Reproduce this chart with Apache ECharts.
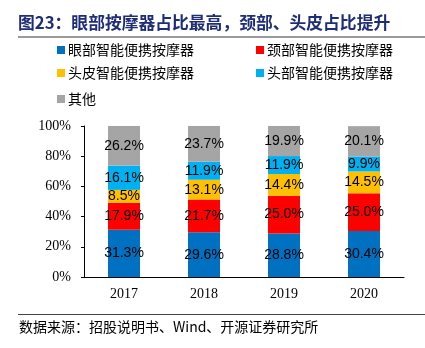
<!DOCTYPE html>
<html>
<head>
<meta charset="utf-8">
<script src="https://cdn.jsdelivr.net/npm/echarts@6/dist/echarts.min.js"></script>
<style>html,body{margin:0;padding:0;background:#fff;}#c{width:425px;height:348px;}</style>
</head>
<body>
<div id="c"></div>
<script>
const categories = ['2017', '2018', '2019', '2020'];
const seriesNames = ['眼部智能便携按摩器', '颈部智能便携按摩器', '头皮智能便携按摩器', '头部智能便携按摩器', '其他'];
const eyeValues = [31.3, 29.6, 28.8, 30.4];
const neckValues = [17.9, 21.7, 25.0, 25.0];
const scalpValues = [8.5, 13.1, 14.4, 14.5];
const headValues = [16.1, 11.9, 11.9, 9.9];
const otherValues = [26.2, 23.7, 19.9, 20.1];
const yTicks = [0, 20, 40, 60, 80, 100];
const titleText = '图23：眼部按摩器占比最高，颈部、头皮占比提升';
const sourceText = '数据来源：招股说明书、Wind、开源证券研究所';

const colors = ['#0070C0', '#FF0000', '#FFC000', '#00B0F0', '#A5A5A5'];
const allValues = [eyeValues, neckValues, scalpValues, headValues, otherValues];
const cjk = '"Noto Sans CJK SC", sans-serif';
const serif = '"Liberation Serif", "Times New Roman", serif';

const chart = echarts.init(document.getElementById('c'), null, {renderer: 'canvas'});

const legendPos = [[57, 43], [256, 43], [57, 66], [256, 66], [57, 92]];
const legends = seriesNames.map((n, i) => ({
  data: [n], left: legendPos[i][0], top: legendPos[i][1], padding: 0,
  icon: 'rect', itemWidth: 8, itemHeight: 8, itemGap: 0,
  textStyle: {fontFamily: cjk, fontSize: 14, color: '#000', padding: [0, 0, 0, -2]},
  selectedMode: false
}));

chart.setOption({
  animation: false,
  color: colors,
  title: [
    {text: titleText, left: 18, top: 14, padding: 0,
     textStyle: {fontFamily: cjk, fontSize: 16.8, fontWeight: 'bold', color: '#1E2D78'}},
    {text: sourceText, left: 19, top: 320, padding: 0,
     textStyle: {fontFamily: cjk, fontSize: 14, fontWeight: 'normal', color: '#000'}}
  ],
  graphic: [
    {type: 'line', shape: {x1: 18, y1: 37, x2: 425, y2: 37}, style: {stroke: '#9a9a9a', lineWidth: 2}},
    {type: 'line', shape: {x1: 18, y1: 314.5, x2: 425, y2: 314.5}, style: {stroke: '#444', lineWidth: 1}}
  ],
  legend: legends,
  grid: {left: 84, right: 21, top: 126, bottom: 71},
  xAxis: {
    type: 'category', data: categories,
    axisLine: {lineStyle: {color: '#000', width: 1}},
    axisTick: {inside: true, length: 4, lineStyle: {color: '#000'}},
    axisLabel: {fontFamily: serif, fontSize: 14, color: '#000', margin: 10}
  },
  yAxis: {
    type: 'value', min: yTicks[0], max: yTicks[yTicks.length - 1], interval: 20,
    axisLine: {show: true, lineStyle: {color: '#000', width: 1}},
    axisTick: {show: true, length: 3, lineStyle: {color: '#000'}},
    splitLine: {show: false},
    axisLabel: {fontFamily: serif, fontSize: 14, color: '#000', margin: 13, formatter: '{value}%'}
  },
  series: allValues.map((vals, i) => ({
    name: seriesNames[i], type: 'bar', stack: 'total', data: vals,
    barWidth: 32,
    itemStyle: {color: colors[i]},
    label: {show: true, position: 'inside', color: '#000',
      fontFamily: '"Liberation Sans", Arial, sans-serif', fontSize: 14,
      formatter: p => p.value.toFixed(1) + '%'}
  }))
});
</script>
</body>
</html>
